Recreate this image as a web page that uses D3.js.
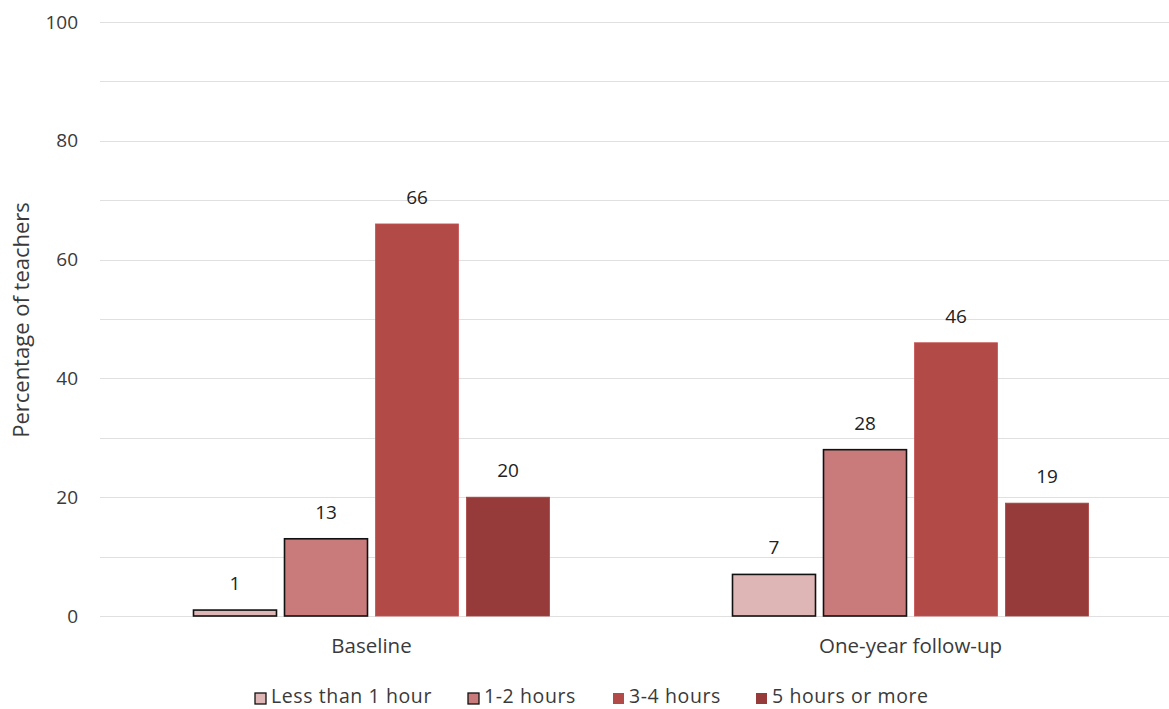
<!DOCTYPE html>
<html>
<head>
<meta charset="utf-8">
<script src="https://cdn.jsdelivr.net/npm/d3@7"></script>
<style>
  html, body { margin: 0; padding: 0; background: #fff; }
  svg { display: block; font-family: "Open Sans", "DejaVu Sans", sans-serif; }
</style>
</head>
<body>
<svg id="chart" width="1169" height="709"></svg>
<script>
// Time spent per week, share of teachers by survey wave
const categories = ["Baseline", "One-year follow-up"];
const seriesNames = ["Less than 1 hour", "1-2 hours", "3-4 hours", "5 hours or more"];
const baselineValues = [1, 13, 66, 20];
const followUpValues = [7, 28, 46, 19];
const yTicks = [0, 20, 40, 60, 80, 100];
const yMinorGrid = [10, 30, 50, 70, 90];

const colors = ["#dfb6b6", "#c97b7b", "#b24a48", "#973a3a"];
const outlined = [true, true, false, false];

const rows = categories.map((c, i) => ({
  category: c,
  values: [baselineValues, followUpValues][i]
}));

const svg = d3.select("#chart");
const margin = { left: 100, top: 22, bottom: 616 };
const plotRight = 1180;
const textColor = "#3a3a3a";

const x = d3.scaleBand().domain(categories).range([102, plotRight]).paddingInner(0).paddingOuter(0);
const groupWidth = 356;
const xs = d3.scaleBand().domain(seriesNames).range([0, groupWidth]).paddingInner(0.088).paddingOuter(0);
const y = d3.scaleLinear().domain([0, 100]).range([margin.bottom, margin.top]);

// gridlines
svg.append("g").selectAll("line").data(yTicks.concat(yMinorGrid)).join("line")
  .attr("x1", margin.left).attr("x2", plotRight)
  .attr("y1", d => Math.round(y(d)) + 0.5).attr("y2", d => Math.round(y(d)) + 0.5)
  .attr("stroke", "#e0e0e0").attr("stroke-width", 1.2);

// y axis tick labels
const yAxis = d3.axisLeft(y).tickValues(yTicks).tickSize(0).tickPadding(22);
const ya = svg.append("g").attr("transform", `translate(${margin.left},0)`).call(yAxis);
ya.select(".domain").remove();
ya.selectAll("text").attr("font-size", 19).attr("fill", textColor).attr("font-family", "\"Open Sans\", sans-serif");

// x axis labels
const xAxis = d3.axisBottom(x).tickSize(0).tickPadding(22);
const xa = svg.append("g").attr("transform", `translate(0,${margin.bottom})`).call(xAxis);
xa.select(".domain").remove();
xa.selectAll("text").attr("font-size", 20.5).attr("fill", textColor).attr("font-family", "\"Open Sans\", sans-serif");

// bars
const groups = svg.append("g").selectAll("g").data(rows).join("g")
  .attr("transform", d => `translate(${x(d.category) + x.bandwidth() / 2 - groupWidth / 2},0)`);

groups.selectAll("rect").data(d => d.values.map((v, i) => ({ v, i, name: seriesNames[i] }))).join("rect")
  .attr("x", d => xs(d.name))
  .attr("y", d => y(d.v))
  .attr("width", xs.bandwidth())
  .attr("height", d => y(0) - y(d.v))
  .attr("fill", d => colors[d.i])
  .attr("stroke", d => outlined[d.i] ? "#111" : d3.color(colors[d.i]).brighter(0.3))
  .attr("stroke-width", d => outlined[d.i] ? 1.6 : 0.8);

// value labels
groups.selectAll("text").data(d => d.values.map((v, i) => ({ v, i, name: seriesNames[i] }))).join("text")
  .attr("x", d => xs(d.name) + xs.bandwidth() / 2)
  .attr("y", d => y(d.v) - 20)
  .attr("text-anchor", "middle")
  .attr("font-size", 19)
  .attr("fill", "#222")
  .text(d => d.v);

// y axis title
svg.append("text")
  .attr("transform", `translate(29,320) rotate(-90)`)
  .attr("text-anchor", "middle")
  .attr("font-size", 22)
  .attr("fill", textColor)
  .text("Percentage of teachers");

// legend
const legendX = [255, 468, 613, 756];
const legend = svg.append("g").selectAll("g").data(seriesNames).join("g")
  .attr("transform", (d, i) => `translate(${legendX[i]},691)`);
legend.append("rect")
  .attr("y", 2)
  .attr("width", 11).attr("height", 11)
  .attr("fill", (d, i) => colors[i])
  .attr("stroke", (d, i) => outlined[i] ? "#111" : "none")
  .attr("stroke-width", 1.3);
legend.append("text")
  .attr("x", 16).attr("y", 12)
  .attr("font-size", 19.5)
  .attr("letter-spacing", 0.6)
  .attr("fill", textColor)
  .text(d => d);
</script>
</body>
</html>
